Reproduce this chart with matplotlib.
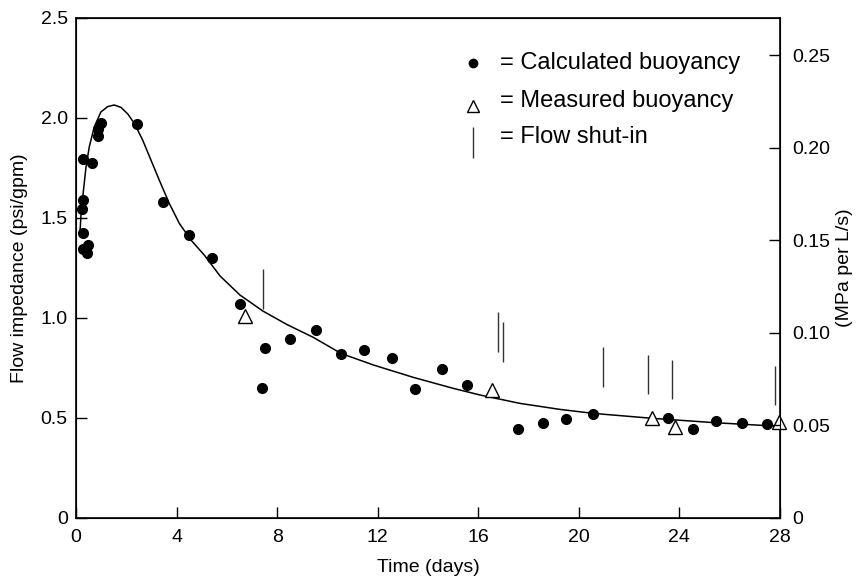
import matplotlib
matplotlib.use("Agg")
import matplotlib.pyplot as plt

plt.rcParams["font.family"] = ["Liberation Sans", "DejaVu Sans"]

# --------------------------------------------------
# Data
# --------------------------------------------------
# calculated buoyancy (filled dots)
calc_days = [0.25, 0.29, 0.29, 0.29, 0.29, 0.49, 0.44, 0.62, 0.86, 0.89, 0.99,
             2.43, 3.45, 4.48, 5.40, 6.54, 7.40, 7.52, 8.51, 9.55, 10.54,
             11.47, 12.55, 13.50, 14.55, 15.57, 17.59, 18.56, 19.49, 20.55,
             23.56, 24.53, 25.46, 26.48, 27.47]
calc_imp = [1.547, 1.59, 1.795, 1.423, 1.343, 1.363, 1.327, 1.773, 1.943, 1.91,
            1.977, 1.968, 1.582, 1.415, 1.30, 1.07, 0.65, 0.85, 0.895, 0.94,
            0.82, 0.84, 0.80, 0.645, 0.745, 0.665, 0.443, 0.477, 0.493, 0.518,
            0.50, 0.443, 0.487, 0.473, 0.47]

# measured buoyancy (open triangles)
meas_days = [6.72, 16.56, 22.90, 23.83, 27.97]
meas_imp = [1.01, 0.64, 0.50, 0.453, 0.48]

# fitted trend curve
curve_days = [0.16, 0.20, 0.27, 0.40, 0.53, 0.73, 0.99, 1.26, 1.52, 1.79, 2.06,
              2.32, 2.65, 2.98, 3.31, 3.71, 4.11, 4.57, 5.10, 5.73, 6.52, 7.43,
              8.38, 9.44, 10.54, 11.83, 13.42, 15.01, 16.07, 17.66, 19.25,
              20.58, 22.96, 25.35, 28.0]
curve_imp = [1.43, 1.52, 1.607, 1.757, 1.857, 1.957, 2.03, 2.057, 2.065, 2.053,
             2.02, 1.973, 1.89, 1.79, 1.69, 1.573, 1.473, 1.39, 1.315, 1.21,
             1.115, 1.035, 0.968, 0.903, 0.823, 0.765, 0.703, 0.648, 0.615,
             0.573, 0.543, 0.523, 0.498, 0.477, 0.458]

# flow shut-in marks: time, bottom and top of each vertical bar
shutin_days = [7.42, 16.77, 17.00, 20.96, 22.75, 23.71, 27.80]
shutin_low = [1.045, 0.83, 0.78, 0.656, 0.618, 0.593, 0.565]
shutin_high = [1.245, 1.03, 0.98, 0.853, 0.815, 0.79, 0.76]

x_ticks = [0, 4, 8, 12, 16, 20, 24, 28]
left_ticks = [0, 0.5, 1.0, 1.5, 2.0, 2.5]
left_labels = ["0", "0.5", "1.0", "1.5", "2.0", "2.5"]
right_ticks = [0, 0.05, 0.10, 0.15, 0.20, 0.25]
right_labels = ["0", "0.05", "0.10", "0.15", "0.20", "0.25"]
right_max = 0.27

# --------------------------------------------------
# Figure
# --------------------------------------------------
fig = plt.figure(figsize=(8.6, 5.78), dpi=100)
ax = fig.add_axes([76 / 860, 60 / 578, 704 / 860, 500 / 578])

ax.plot(curve_days, curve_imp, color="black", lw=1.1)
ax.vlines(shutin_days, shutin_low, shutin_high, color="#333333", lw=1.0)
ax.plot(calc_days, calc_imp, "o", color="black", ms=7, ls="none")
ax.plot(meas_days, meas_imp, "^", mfc="white", mec="black", mew=1.0, ms=10,
        ls="none", clip_on=False, zorder=5)

ax.set_xlim(0, 28)
ax.set_ylim(0, 2.5)
ax.set_xticks(x_ticks)
ax.set_yticks(left_ticks)
ax.set_yticklabels(left_labels)
ax.tick_params(direction="in", length=8, width=1, labelsize=14)
ax.tick_params(axis="x", pad=8)
ax.tick_params(axis="y", pad=6)
ax.set_xlabel("Time (days)", fontsize=14, labelpad=9)
ax.set_ylabel("Flow impedance (psi/gpm)", fontsize=14, labelpad=9)
for s in ax.spines.values():
    s.set_linewidth(1.2)

ax2 = ax.twinx()
ax2.set_ylim(0, right_max)
ax2.set_yticks(right_ticks)
ax2.set_yticklabels(right_labels)
ax2.tick_params(direction="in", length=8, width=1, labelsize=14, pad=9)
ax2.set_ylabel("(MPa per L/s)", fontsize=14, labelpad=4)

# legend drawn by hand
ax.plot([15.79], [2.275], "o", color="black", ms=6)
ax.plot([15.79], [2.06], "^", mfc="white", mec="black", mew=1.0, ms=9)
ax.vlines([15.79], [1.80], [1.955], color="#333333", lw=1.0)
ax.text(16.87, 2.275, "= Calculated buoyancy", fontsize=17, va="center")
ax.text(16.87, 2.085, "= Measured buoyancy", fontsize=17, va="center")
ax.text(16.87, 1.905, "= Flow shut-in", fontsize=17, va="center")

fig.savefig("out.png", dpi=100)
